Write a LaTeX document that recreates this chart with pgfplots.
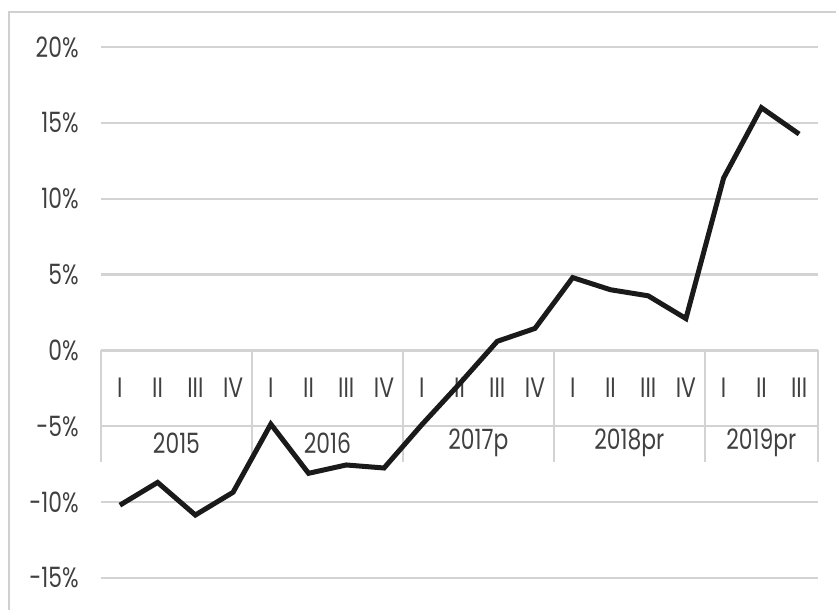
\documentclass[border=0pt]{standalone}
\usepackage{pgfplots}
\pgfplotsset{compat=1.18}
\usepackage{fontspec}
\setmainfont{Poppins}[FakeStretch=0.78]
\definecolor{txt}{HTML}{404040}
\definecolor{grd}{HTML}{D3D3D3}
\definecolor{frm}{HTML}{D0D0D0}
\definecolor{ln}{HTML}{1A1A1A}
\begin{document}
\begin{tikzpicture}
\useasboundingbox (0,0) rectangle (418pt,305pt);
\draw[frm, line width=1.1pt] (4.5pt,-5pt) -- (4.5pt,299pt) -- (430pt,299pt);
\begin{axis}[
  at={(50.5pt,16pt)}, anchor=south west,
  scale only axis, width=358.5pt, height=265.5pt,
  xmin=-0.5, xmax=18.5, ymin=-15, ymax=20,
  axis line style={draw=none},
  xtick=\empty,
  ytick={-15,-10,-5,0,5,10,15,20},
  yticklabels={-15\%,-10\%,-5\%,0\%,5\%,10\%,15\%,20\%},
  yticklabel style={anchor=east, inner sep=0pt, xshift=-11pt, text=txt, font=\fontsize{14}{16}\selectfont},
  major tick length=0pt,
  ymajorgrids, grid style={grd, line width=1.2pt},
  clip=false,
]
% category table separators
\foreach \s in {-0.5,3.5,7.5,11.5,15.5,18.5} {
  \edef\tmp{\noexpand\draw[grd, line width=1.2pt] (axis cs:\s,0) -- (axis cs:\s,-7.36);}
  \tmp
}
% quarter labels
\foreach \i/\q in {0/I,1/II,2/III,3/IV,4/I,5/II,6/III,7/IV,8/I,9/II,10/III,11/IV,12/I,13/II,14/III,15/IV,16/I,17/II,18/III} {
  \edef\tmp{\noexpand\node[text=txt, font=\noexpand\fontsize{14}{16}\noexpand\selectfont, inner sep=0pt] at (axis cs:\i,-2.45) {\q};}
  \tmp
}
% year labels
\foreach \c/\y in {1.5/2015,5.5/2016,9.5/2017p,13.5/2018pr,17/2019pr} {
  \edef\tmp{\noexpand\node[text=txt, font=\noexpand\fontsize{14}{16}\noexpand\selectfont, inner sep=0pt] at (axis cs:\c,-6.1) {\y};}
  \tmp
}
\addplot[ln, line width=2.5pt, mark=none] coordinates {
  (0,-10.2) (1,-8.7) (2,-10.85) (3,-9.35)
  (4,-4.86) (5,-8.1) (6,-7.55) (7,-7.75)
  (8,-4.9) (9,-2.2) (10,0.6) (11,1.45)
  (12,4.8) (13,4.0) (14,3.6) (15,2.1)
  (16,11.37) (17,16.0) (18,14.26)
};
\end{axis}
\end{tikzpicture}
\end{document}
